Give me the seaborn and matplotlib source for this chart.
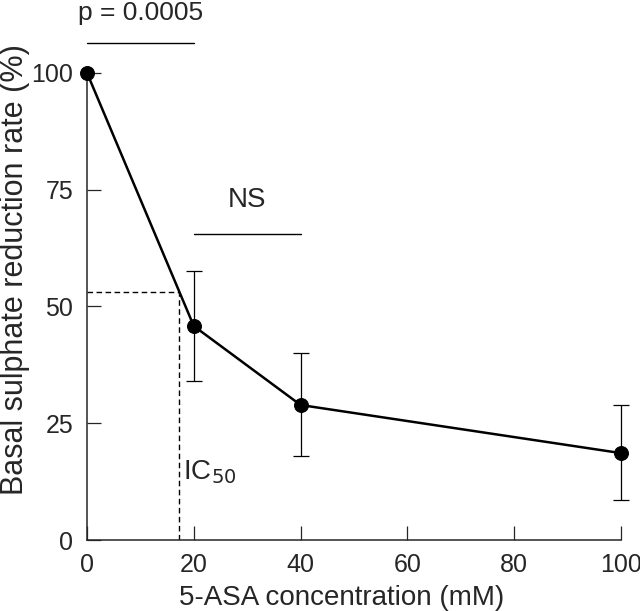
import matplotlib
matplotlib.use('Agg')
import matplotlib.pyplot as plt
import seaborn as sns
import pandas as pd

# Data
concentration = [0, 20, 40, 100]
rate = [100, 45.8, 28.9, 18.6]
err_upper = [0, 11.7, 11.1, 10.3]
err_lower = [0, 11.8, 10.9, 10.0]
ic50_x = 17.2
ic50_y = 53.1
xticks = [0, 20, 40, 60, 80, 100]
yticks = [0, 25, 50, 75, 100]

df = pd.DataFrame({'conc': concentration, 'rate': rate})

sns.set_style('ticks')
plt.rcParams['font.family'] = ['Liberation Sans', 'DejaVu Sans']

fig = plt.figure(figsize=(6.4, 6.11), dpi=100)
ax = fig.add_axes([87 / 640, 71 / 611, 553 / 640, 540 / 611])

# error bars (no bar on the 0 mM point)
ax.errorbar(concentration[1:], rate[1:], yerr=[err_lower[1:], err_upper[1:]],
            fmt='none', ecolor='black', elinewidth=0.9, capsize=6, capthick=0.9,
            clip_on=False, zorder=2)

sns.lineplot(data=df, x='conc', y='rate', ax=ax, color='black', linewidth=1.8,
             marker='o', markersize=10, markeredgecolor='black', clip_on=False,
             zorder=3)

# IC50 dashed guide lines
ax.plot([0, ic50_x], [ic50_y, ic50_y], color='black', linestyle=(0, (4, 2.5)), linewidth=1)
ax.plot([ic50_x, ic50_x], [0, ic50_y], color='black', linestyle=(0, (4, 2.5)), linewidth=1)
ax.text(ic50_x + 0.8, 14.5, 'IC$_{50}$', fontsize=20, ha='left', va='center')

# significance bars
ax.plot([0, 20], [106.4, 106.4], color='black', linewidth=1, clip_on=False)
ax.text(10.1, 112.8, 'p = 0.0005', fontsize=19, ha='center', va='center')
ax.plot([20, 40], [65.5, 65.5], color='black', linewidth=1)
ax.text(30, 72.8, 'NS', fontsize=20, ha='center', va='center')

ax.set_xlim(0, 103.56)
ax.set_ylim(0, 115.6)
ax.set_xticks(xticks)
ax.set_yticks(yticks)
ax.spines['top'].set_visible(False)
ax.spines['right'].set_visible(False)
ax.spines['left'].set_bounds(0, 100)
ax.spines['bottom'].set_bounds(0, 100)
for s in ['left', 'bottom']:
    ax.spines[s].set_linewidth(1.1)
ax.tick_params(direction='in', length=10, width=0.9, labelsize=18)
ax.tick_params(axis='y', pad=10)
ax.tick_params(axis='x', pad=9)
ax.set_xlabel('5-ASA concentration (mM)', fontsize=20)
ax.set_ylabel('Basal sulphate reduction rate (%)', fontsize=22)
ax.xaxis.set_label_coords(0.461, -0.084)
ax.yaxis.set_label_coords(-0.103, 0.5)

fig.savefig('out.png', dpi=100)
